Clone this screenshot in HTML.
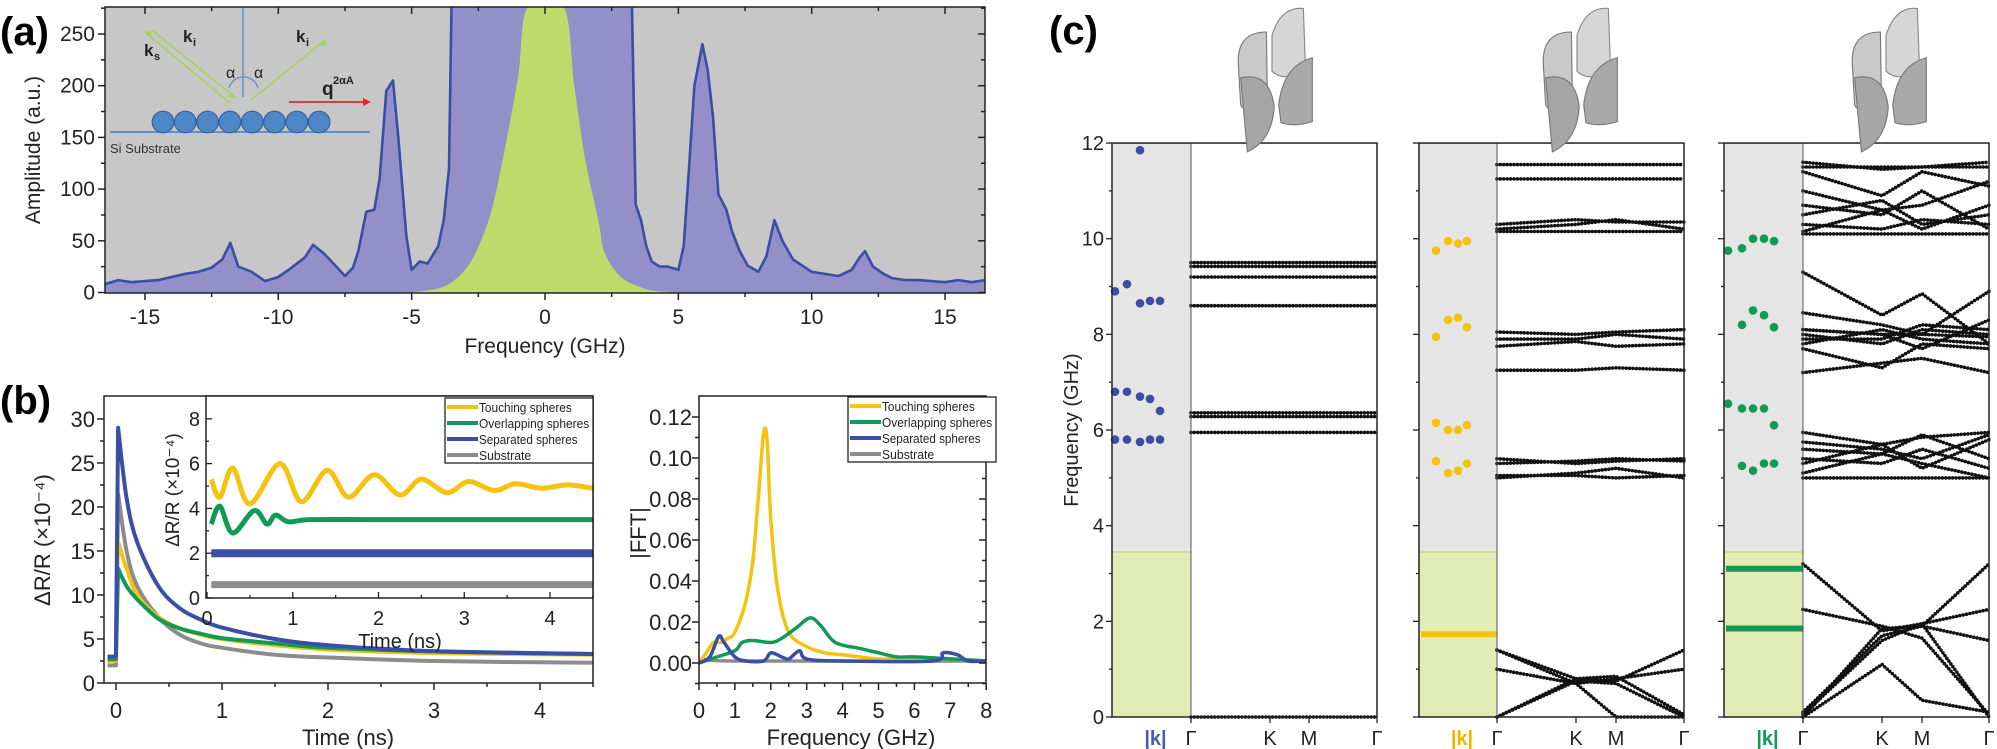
<!DOCTYPE html>
<html><head><meta charset="utf-8"><style>
html,body{margin:0;padding:0;background:#fff;}
svg{display:block;font-family:"Liberation Sans",sans-serif;}
</style></head><body>
<svg id="fig" width="1997" height="749" viewBox="0 0 1997 749" xmlns="http://www.w3.org/2000/svg">
<defs>
<clipPath id="clipA"><rect x="105" y="7" width="880" height="286"/></clipPath>
<clipPath id="clipB"><rect x="104" y="396" width="489" height="287"/></clipPath>
<clipPath id="clipI"><rect x="206" y="396" width="387" height="202"/></clipPath>
<clipPath id="clipF"><rect x="699" y="396" width="287" height="287"/></clipPath>
</defs>
<text x="0" y="45" font-size="40" font-weight="bold">(a)</text>
<text x="0" y="414" font-size="40" font-weight="bold">(b)</text>
<text x="1049" y="44" font-size="40" font-weight="bold">(c)</text>
</svg>
<script>
// ---------- Panel (a) data ----------
const specFreq = [-16.5,-16,-15.5,-15,-14.5,-14,-13.5,-13,-12.5,-12.1,-11.8,-11.5,-11,-10.5,-10,-9.5,-9,-8.7,-8.3,-8,-7.5,-7.2,-7,-6.7,-6.4,-6.2,-5.95,-5.7,-5.5,-5.2,-5,-4.7,-4.4,-4,-3.8,-3.6,-3.5,3.25,3.4,3.6,3.8,4,4.3,4.6,5,5.2,5.4,5.6,5.9,6.1,6.3,6.5,6.8,7,7.3,7.6,8,8.3,8.6,8.9,9.3,9.7,10,10.5,11,11.5,11.8,12,12.3,12.7,13,13.5,14,15,15.5,16,16.5];
const specAmp  = [8,12,10,11,12,15,18,20,24,32,48,25,20,11,15,24,34,46,38,30,16,24,40,78,80,110,195,205,150,55,22,30,28,45,70,120,290,290,85,70,45,30,25,25,22,45,120,200,240,215,170,95,80,60,40,26,20,35,70,50,32,25,20,18,16,22,34,40,25,18,14,12,12,10,12,10,12];
const gaussFreq = [-5,-4,-3.5,-3,-2.55,-2,-1.5,-1,-0.65,0.7,1.1,1.5,2,2.2,2.6,3,3.5,4,5];
const gaussAmp  = [0,4,10,22,41,80,140,210,276,276,200,130,70,41,22,12,6,2,0];
const aXTicks = [-15,-10,-5,0,5,10,15];
const aYTicks = [0,50,100,150,200,250];

// ---------- Panel (b) decay data ----------
const decayT = [-0.08,-0.001,0.02,0.1,0.2,0.4,0.6,0.8,1,1.5,2,3,4.5];
const decayBlue   = [3,3,29,21,16,11,8.5,7.2,6.3,5,4.3,3.6,3.3];
const decayYellow = [2.5,2.5,16,13,10,7.5,6.2,5.5,5,4.3,3.8,3.4,3.2];
const decayGreen  = [2.7,2.7,13,11,9.5,7.3,6.2,5.6,5.1,4.5,4,3.6,3.3];
const decayGray   = [2,2,21.5,15,11,7.5,5.5,4.5,4,3.2,2.9,2.5,2.3];
const bXTicks = [0,1,2,3,4];
const bYTicks = [0,5,10,15,20,25,30];
// inset
const insTY = [0.05,0.15,0.3,0.5,0.85,1.1,1.4,1.65,1.95,2.25,2.5,2.8,3.05,3.35,3.6,3.9,4.2,4.5];
const insYellow = [5.3,4.5,5.8,4.2,6.0,4.3,5.7,4.5,5.5,4.6,5.3,4.7,5.2,4.8,5.1,4.9,5.05,4.9];
const insTG = [0.05,0.15,0.3,0.55,0.7,0.8,0.95,1.2,2,3,4.5];
const insGreen = [3.3,4.1,2.9,3.9,3.3,3.7,3.4,3.5,3.5,3.5,3.5];
const insTFlat = [0.05,4.5];
const insBlue = [2.0,2.0];
const insGray = [0.6,0.6];
const insXTicks = [0,1,2,3,4];
const insYTicks = [0,2,4,6,8];
// FFT
const fftF = [0,0.2,0.4,0.6,0.8,1.0,1.3,1.5,1.65,1.8,1.9,2.0,2.2,2.5,3,3.5,4,5,6,7,8];
const fftYellow = [0,0.005,0.01,0.01,0.012,0.015,0.03,0.05,0.08,0.112,0.108,0.07,0.035,0.015,0.008,0.005,0.004,0.002,0.002,0.002,0.001];
const fftFG = [0,0.5,1,1.2,1.5,2,2.3,2.7,3.1,3.4,3.8,4.5,5,5.5,6,7,8];
const fftGreen = [0,0.003,0.006,0.01,0.011,0.01,0.012,0.017,0.022,0.018,0.01,0.007,0.005,0.003,0.003,0.002,0.001];
const fftFB = [0,0.3,0.55,0.7,1,1.3,1.8,2,2.3,2.5,2.8,3,4,6.5,6.8,7.2,7.5,8];
const fftBlue = [0,0.003,0.013,0.01,0.003,0.001,0.001,0.005,0.003,0.002,0.006,0.002,0.001,0.001,0.005,0.004,0.001,0.001];
const fftFGr = [0,0.3,1,8];
const fftGray = [0,0.002,0.001,0.001];
const fXTicks = [0,1,2,3,4,5,6,7,8];
const fYTicks = [0,0.02,0.04,0.06,0.08,0.1,0.12];
const fYLabels = ["0.00","0.02","0.04","0.06","0.08","0.10","0.12"];
const legendNames = ["Touching spheres","Overlapping spheres","Separated spheres","Substrate"];

// ---------- Panel (c) data ----------
const cYTicks = [0,2,4,6,8,10,12];
const cXLabels = ["Γ","K","M","Γ"];
const dots1 = [[5.8,6.8,8.9],[5.8,6.8,9.05],[5.75,6.7,8.65,11.85],[5.8,6.65,8.7],[5.8,6.4,8.7]];
const dots2 = [[5.35,6.15,7.95,9.75],[5.1,6.0,8.3,9.95],[5.15,6.0,8.35,9.9],[5.3,6.1,8.15,9.95]];
const dots3 = [[6.55,9.75],[5.25,6.45,8.2,9.8],[5.15,6.45,8.5,10.0],[5.3,6.45,8.4,10.0],[5.3,6.1,8.15,9.95]];
const flat2 = [1.73];
const flat3 = [3.1,1.85];
const bands1 = [[0,0,0,0],[5.95,5.95,5.95,5.95],[6.28,6.28,6.28,6.28],[6.36,6.36,6.36,6.36],[8.6,8.6,8.6,8.6],[9.2,9.2,9.2,9.2],[9.42,9.42,9.42,9.42],[9.5,9.5,9.5,9.5]];
const bands2 = [[1.4,0.8,0.75,1.4],[1.0,0.7,0.8,1.0],[0,0.75,0.7,0],[0,0.8,0.85,0.05],[1.4,0.7,0,0],
 [5.0,5.1,5.2,5.0],[5.05,5.05,5.0,5.05],[5.3,5.35,5.4,5.35],[5.4,5.3,5.35,5.4],[7.25,7.25,7.3,7.25],[7.75,7.85,7.75,7.8],[7.9,7.9,8.0,7.9],[8.05,8.0,8.05,8.1],
 [10.2,10.3,10.4,10.2],[10.3,10.4,10.35,10.35],[10.15,10.15,10.15,10.15],[11.25,11.25,11.25,11.25],[11.55,11.55,11.55,11.55]];
const bands3 = [[3.2,1.8,1.95,0],[2.25,1.9,1.65,0.05],[0,1.85,1.9,3.2],[0.05,1.6,1.95,2.25],[0,1.1,0.35,0.1],[0.1,1.7,1.9,1.6],
 [5.0,5.0,5.0,5.0],[5.1,5.5,5.3,5.0],[5.3,5.7,5.2,5.8],[5.6,5.5,5.9,5.4],[5.75,5.6,5.4,5.9],[5.95,5.7,5.85,5.95],[5.4,5.3,5.6,5.2],
 [9.3,8.4,8.85,7.8],[8.45,8.2,8.0,8.9],[7.2,7.4,7.5,7.2],[7.7,7.3,7.8,7.7],[7.9,7.9,8.2,8.1],[8.1,8.0,7.7,8.3],[7.8,8.1,7.9,7.8],[8.0,7.8,8.1,8.0],[8.1,8.0,8.0,7.95],
 [10.1,10.1,10.1,10.1],[10.3,10.2,10.4,10.3],[10.5,10.8,10.3,10.5],[10.7,10.5,11.0,10.2],[11.0,10.6,10.7,11.2],[11.5,11.5,11.5,11.5],[11.6,11.45,11.5,11.6],[11.4,10.9,11.4,11.1],[10.15,10.6,10.2,10.7]];

const NS = "http://www.w3.org/2000/svg";
const svg = document.getElementById('fig');
function mk(tag, attrs, name, parent) {
  const e = document.createElementNS(NS, tag);
  for (const k in attrs) e.setAttribute(k, attrs[k]);
  
  
  (parent || svg).appendChild(e);
  return e;
}
function txt(x, y, s, attrs, name, parent) {
  const e = mk('text', Object.assign({x:x, y:y}, attrs), name, parent);
  e.textContent = s;
  return e;
}
function pathFrom(xs, ys, fx, fy) {
  return xs.map((v,i)=>(i?'L':'M')+fx(v).toFixed(1)+' '+fy(ys[i]).toFixed(1)).join(' ');
}
function smoothFrom(xs, ys, fx, fy, nLin) {
  nLin = nLin || 0;
  const P = xs.map((v,i)=>[fx(v), fy(ys[i])]);
  let d = 'M'+P[0][0].toFixed(1)+' '+P[0][1].toFixed(1);
  for (let i=0;i<P.length-1;i++){
    const p1=P[i], p2=P[i+1];
    if (i < nLin) { d += ` L${p2[0].toFixed(1)} ${p2[1].toFixed(1)}`; continue; }
    const p0=P[Math.max(nLin,i-1)], p3=P[Math.min(P.length-1,i+2)];
    const c1=[p1[0]+(p2[0]-p0[0])/6, p1[1]+(p2[1]-p0[1])/6];
    const c2=[p2[0]-(p3[0]-p1[0])/6, p2[1]-(p3[1]-p1[1])/6];
    d+=` C${c1[0].toFixed(1)} ${c1[1].toFixed(1)} ${c2[0].toFixed(1)} ${c2[1].toFixed(1)} ${p2[0].toFixed(1)} ${p2[1].toFixed(1)}`;
  }
  return d;
}

// ================= Panel (a) =================
const ax = f => 545 + f*26.67;
const ay = v => 292.5 - v*1.034;
mk('rect',{x:105,y:7,width:880,height:286,fill:'#c8c7c8'},'panel-a-background');
const ga = mk('g',{'clip-path':'url(#clipA)'},'panel-a-plot-area');
const sp = pathFrom(specFreq, specAmp, ax, ay);
mk('path',{d:sp+` L${ax(16.5)} ${ay(0)} L${ax(-16.5)} ${ay(0)} Z`, fill:'#938fc8'},'spectrum-fill',ga);
const gp = smoothFrom(gaussFreq, gaussAmp, ax, ay);
mk('path',{d:gp+' Z', fill:'#c0d96b'},'central-gaussian',ga);
mk('path',{d:sp, fill:'none', stroke:'#3a4ea6','stroke-width':2.6,'stroke-linejoin':'round'},'spectrum-line',ga);
mk('rect',{x:105,y:7,width:880,height:286,fill:'none',stroke:'#222','stroke-width':1.5},'panel-a-frame');
for (let f=-15; f<=15; f+=2.5) {
  const major = Number.isInteger(f/5);
  mk('line',{x1:ax(f),x2:ax(f),y1:293,y2:293+(major?7:4),stroke:'#222','stroke-width':1.5},'a-x-tick');
  mk('line',{x1:ax(f),x2:ax(f),y1:7,y2:7+(major?7:4),stroke:'#222','stroke-width':1.5},'a-x-tick-top');
}
aXTicks.forEach(f=>txt(ax(f),324,String(f),{'font-size':21,'text-anchor':'middle',fill:'#222'},'a-x-tick-label'));
for (let v=0; v<=275; v+=25) {
  const major = v%50===0;
  mk('line',{x1:105-(major?7:4),x2:105,y1:ay(v),y2:ay(v),stroke:'#222','stroke-width':1.5},'a-y-tick');
  mk('line',{x1:985-(major?7:4),x2:985,y1:ay(v),y2:ay(v),stroke:'#222','stroke-width':1.5},'a-y-tick-right');
}
aYTicks.forEach(v=>txt(95,ay(v)+7,String(v),{'font-size':21,'text-anchor':'end',fill:'#222'},'a-y-tick-label'));
txt(545,353,'Frequency (GHz)',{'font-size':21,'text-anchor':'middle',fill:'#222'},'a-x-axis-title');
txt(0,0,'Amplitude (a.u.)',{'font-size':21,'text-anchor':'middle',fill:'#222',transform:'translate(40,150) rotate(-90)'},'a-y-axis-title');
// inset schematic
const gi = mk('g',{},'scattering-schematic');
mk('line',{x1:243,y1:8,x2:243,y2:97,stroke:'#5b8fd0','stroke-width':1.5},'surface-normal',gi);
mk('path',{d:'M229 88 A15 15 0 0 1 258 88',fill:'none',stroke:'#5b8fd0','stroke-width':1.3},'angle-arc',gi);
mk('line',{x1:152,y1:30,x2:236,y2:98,stroke:'#a6d25a','stroke-width':1.6},'incident-beam',gi);
mk('path',{d:'M236 98 l-8 -1 l3 -5 z',fill:'#a6d25a'},'incident-arrowhead',gi);
mk('line',{x1:230,y1:103,x2:146,y2:33,stroke:'#a6d25a','stroke-width':1.6},'scattered-beam',gi);
mk('path',{d:'M144 31 l8 1 l-3 5 z',fill:'#a6d25a'},'scattered-arrowhead',gi);
mk('line',{x1:251,y1:100,x2:324,y2:41,stroke:'#a6d25a','stroke-width':1.6},'reflected-beam',gi);
mk('path',{d:'M327 39 l-3 8 l-4 -4 z',fill:'#a6d25a'},'reflected-arrowhead',gi);
mk('line',{x1:289,y1:102,x2:365,y2:102,stroke:'#e8262a','stroke-width':1.8},'q-vector',gi);
mk('path',{d:'M371 102 l-8 -4 l0 8 z',fill:'#e8262a'},'q-arrowhead',gi);
mk('line',{x1:110,y1:132,x2:370,y2:132,stroke:'#5b8fd0','stroke-width':2},'substrate-line',gi);
for (let i=0;i<8;i++) mk('circle',{cx:163+i*22.3,cy:122,r:10.8,fill:'#4f86c6',stroke:'#3560a0','stroke-width':1.2},'sphere',gi);
txt(110,153,'Si Substrate',{'font-size':13,fill:'#333'},'substrate-label',gi);
txt(183,42,'k',{'font-size':17,'font-weight':'bold',fill:'#222'},'ki-label',gi);
txt(193,46,'i',{'font-size':11,'font-weight':'bold',fill:'#222'},'ki-subscript',gi);
txt(296,42,'k',{'font-size':17,'font-weight':'bold',fill:'#222'},'ki-label-out',gi);
txt(306,46,'i',{'font-size':11,'font-weight':'bold',fill:'#222'},'ki-subscript-out',gi);
txt(144,56,'k',{'font-size':17,'font-weight':'bold',fill:'#222'},'ks-label',gi);
txt(154,60,'s',{'font-size':11,'font-weight':'bold',fill:'#222'},'ks-subscript',gi);
txt(226,78,'α',{'font-size':16,fill:'#222'},'alpha-left',gi);
txt(254,78,'α',{'font-size':16,fill:'#222'},'alpha-right',gi);
txt(322,95,'q',{'font-size':19,'font-weight':'bold',fill:'#222'},'q-label',gi);
txt(333,84,'2αA',{'font-size':11,'font-weight':'bold',fill:'#222'},'q-superscript',gi);

// ================= Panel (b) left =================
const bx = t => 116 + t*106;
const by = v => 683 - v*8.8;
const COL = {y:'#f4c20f', g:'#119a55', b:'#3a4ea6', k:'#8c8c8c'};
const gb = mk('g',{'clip-path':'url(#clipB)'},'decay-plot-area');
[[decayGray,COL.k,'decay-substrate'],[decayYellow,COL.y,'decay-touching'],[decayGreen,COL.g,'decay-overlapping'],[decayBlue,COL.b,'decay-separated']].forEach(s=>{
  mk('path',{d:smoothFrom(decayT,s[0],bx,by,2),fill:'none',stroke:s[1],'stroke-width':4,'stroke-linejoin':'round'},s[2],gb);
});
mk('rect',{x:104,y:396,width:489,height:287,fill:'none',stroke:'#222','stroke-width':1.5},'decay-frame');
for (let t=0;t<=4.5;t+=0.5){const M=Number.isInteger(t);mk('line',{x1:bx(t),x2:bx(t),y1:683,y2:683+(M?7:4),stroke:'#222','stroke-width':1.5},'b-x-tick');}
bXTicks.forEach(t=>txt(bx(t),718,String(t),{'font-size':22,'text-anchor':'middle',fill:'#222'},'b-x-tick-label'));
for (let v=0;v<=30;v+=2.5){const M=v%5===0;mk('line',{x1:104-(M?7:4),x2:104,y1:by(v),y2:by(v),stroke:'#222','stroke-width':1.5},'b-y-tick');}
bYTicks.forEach(v=>txt(95,by(v)+8,String(v),{'font-size':22,'text-anchor':'end',fill:'#222'},'b-y-tick-label'));
txt(348,745,'Time (ns)',{'font-size':22,'text-anchor':'middle',fill:'#222'},'b-x-axis-title');
txt(0,0,'ΔR/R (×10⁻⁴)',{'font-size':22,'text-anchor':'middle',fill:'#222',transform:'translate(50,540) rotate(-90)'},'b-y-axis-title');
// inset
const ix = t => 207 + t*85.75;
const iy = v => 598 - v*22.4;
mk('rect',{x:206,y:396,width:387,height:202,fill:'#fff'},'inset-background');
const gI = mk('g',{'clip-path':'url(#clipI)'},'inset-plot-area');
mk('path',{d:pathFrom(insTFlat,insGray,ix,iy),fill:'none',stroke:COL.k,'stroke-width':7},'inset-substrate',gI);
mk('path',{d:pathFrom(insTFlat,insBlue,ix,iy),fill:'none',stroke:COL.b,'stroke-width':8},'inset-separated',gI);
mk('path',{d:smoothFrom(insTG,insGreen,ix,iy),fill:'none',stroke:COL.g,'stroke-width':5,'stroke-linejoin':'round'},'inset-overlapping',gI);
mk('path',{d:smoothFrom(insTY,insYellow,ix,iy),fill:'none',stroke:COL.y,'stroke-width':5,'stroke-linejoin':'round'},'inset-touching',gI);
mk('rect',{x:206,y:396,width:387,height:202,fill:'none',stroke:'#222','stroke-width':1.5},'inset-frame');
for (let t=0;t<=4.5;t+=0.5){const M=Number.isInteger(t);mk('line',{x1:ix(t),x2:ix(t),y1:598,y2:598-(M?6:3),stroke:'#222','stroke-width':1.3},'inset-x-tick');}
insXTicks.forEach(t=>txt(ix(t),625,String(t),{'font-size':20,'text-anchor':'middle',fill:'#222'},'inset-x-tick-label'));
for (let v=0;v<=8;v+=1){const M=v%2===0;mk('line',{x1:206,x2:206+(M?6:3),y1:iy(v),y2:iy(v),stroke:'#222','stroke-width':1.3},'inset-y-tick');}
insYTicks.forEach(v=>txt(200,iy(v)+7,String(v),{'font-size':20,'text-anchor':'end',fill:'#222'},'inset-y-tick-label'));
txt(400,648,'Time (ns)',{'font-size':20,'text-anchor':'middle',fill:'#222'},'inset-x-axis-title');
txt(0,0,'ΔR/R (×10⁻⁴)',{'font-size':19,'text-anchor':'middle',fill:'#222',transform:'translate(179,490) rotate(-90)'},'inset-y-axis-title');
function legend(x0,y0,prefix){
  mk('rect',{x:x0,y:y0,width:148,height:65,fill:'#fff',stroke:'#222','stroke-width':1.3},prefix+'-legend-box');
  [COL.y,COL.g,COL.b,COL.k].forEach((c,i)=>{
    const yy=y0+9+i*16;
    mk('line',{x1:x0+2,x2:x0+33,y1:yy,y2:yy,stroke:c,'stroke-width':4},prefix+'-legend-swatch');
    txt(x0+34,yy+5,legendNames[i],{'font-size':13,fill:'#222','textLength':legendNames[i].length*5.8,'lengthAdjust':'spacingAndGlyphs'},prefix+'-legend-entry');
  });
}
legend(445,398,'decay');

// ================= Panel (b) right: FFT =================
const fx = f => 699 + f*35.9;
const fy = v => 663 - v*2050;
const gF = mk('g',{'clip-path':'url(#clipF)'},'fft-plot-area');
[[fftFGr,fftGray,COL.k,'fft-substrate'],[fftF,fftYellow,COL.y,'fft-touching'],[fftFG,fftGreen,COL.g,'fft-overlapping'],[fftFB,fftBlue,COL.b,'fft-separated']].forEach(s=>{
  mk('path',{d:smoothFrom(s[0],s[1],fx,fy),fill:'none',stroke:s[2],'stroke-width':3.5,'stroke-linejoin':'round'},s[3],gF);
});
mk('rect',{x:699,y:396,width:287,height:287,fill:'none',stroke:'#222','stroke-width':1.5},'fft-frame');
for (let f=0;f<=8;f+=0.5){const M=Number.isInteger(f);mk('line',{x1:fx(f),x2:fx(f),y1:683,y2:683+(M?7:4),stroke:'#222','stroke-width':1.5},'fft-x-tick');}
fXTicks.forEach(f=>txt(fx(f),718,String(f),{'font-size':22,'text-anchor':'middle',fill:'#222'},'fft-x-tick-label'));
for (let v=-0.01;v<=0.125;v+=0.01){const M=Math.round(v*100)%2===0;mk('line',{x1:699-(M?7:4),x2:699,y1:fy(v),y2:fy(v),stroke:'#222','stroke-width':1.5},'fft-y-tick');mk('line',{x1:986-(M?7:4),x2:986,y1:fy(v),y2:fy(v),stroke:'#222','stroke-width':1.5},'fft-y-tick-right');}
fYTicks.forEach((v,i)=>txt(692,fy(v)+8,fYLabels[i],{'font-size':22,'text-anchor':'end',fill:'#222'},'fft-y-tick-label'));
txt(851,745,'Frequency (GHz)',{'font-size':22,'text-anchor':'middle',fill:'#222'},'fft-x-axis-title');
txt(0,0,'|FFT|',{'font-size':22,'text-anchor':'middle',fill:'#222',transform:'translate(646,533) rotate(-90)'},'fft-y-axis-title');
legend(848,397,'fft');

// ================= Panel (c) =================
const cy = f => 717 - f*47.83;
const plots = [
 {L:1112,G:1191,K:1270,M:1309,R:1377,dots:dots1,dx:[1115,1127,1140,1150,1160],dc:'#3a4ea6',flat:[],fc:'#3a4ea6',bands:bands1,kc:'#4a5bb5',sx:1272},
 {L:1419,G:1497,K:1576,M:1616,R:1684,dots:dots2,dx:[1436,1448,1458,1467],dc:'#f4c20f',flat:flat2,fc:'#f4c20f',bands:bands2,kc:'#f0b400',sx:1577},
 {L:1724,G:1803,K:1882,M:1922,R:1989,dots:dots3,dx:[1728,1742,1753,1764,1774],dc:'#119a55',flat:flat3,fc:'#119a55',bands:bands3,kc:'#119a55',sx:1886}
];
plots.forEach((p,pi)=>{
  const g = mk('g',{},'band-structure-'+(pi+1));
  mk('rect',{x:p.L,y:cy(12),width:p.G-p.L,height:cy(3.45)-cy(12),fill:'#e5e5e5'},'k-strip-gray',g);
  mk('rect',{x:p.L,y:cy(3.45),width:p.G-p.L,height:cy(0)-cy(3.45),fill:'#e2ecb6'},'k-strip-green',g);
  mk('line',{x1:p.L,x2:p.G,y1:cy(3.45),y2:cy(3.45),stroke:'#b8d36a','stroke-width':1},'cutoff-line',g);
  const xs=[p.G,p.K,p.M,p.R];
  p.bands.forEach(b=>{
    mk('path',{d:xs.map((x,i)=>(i?'L':'M')+x+' '+cy(b[i]).toFixed(1)).join(' '),fill:'none',stroke:'#111','stroke-width':3.6,'stroke-linecap':'round','stroke-dasharray':'0 3.4'},'phonon-band',g);
  });
  p.flat.forEach(f=>mk('line',{x1:p.L+2,x2:p.G,y1:cy(f),y2:cy(f),stroke:p.fc,'stroke-width':6},'flat-mode',g));
  p.dots.forEach((col,ci)=>col.forEach(f=>mk('circle',{cx:p.dx[ci],cy:cy(f),r:4.3,fill:p.dc},'measured-mode',g)));
  mk('line',{x1:p.G,x2:p.G,y1:cy(12),y2:cy(0),stroke:'#555','stroke-width':1},'gamma-divider',g);
  mk('rect',{x:p.L,y:cy(12),width:p.R-p.L,height:cy(0)-cy(12),fill:'none',stroke:'#222','stroke-width':1.5},'band-frame',g);
  for (let f=0;f<=12;f+=1){const M=f%2===0;mk('line',{x1:p.L-(M?6:3),x2:p.L,y1:cy(f),y2:cy(f),stroke:'#222','stroke-width':1.3},'c-y-tick',g);}
  [p.G,p.K,p.M,p.R].forEach((x,i)=>{
    mk('line',{x1:x,x2:x,y1:cy(0),y2:cy(0)+6,stroke:'#222','stroke-width':1.3},'c-x-tick',g);
    txt(x,745,cXLabels[i],{'font-size':20,'text-anchor':'middle',fill:'#222'},'c-x-tick-label',g);
  });
  txt((p.L+p.G)/2+4,745,'|k|',{'font-size':20,'font-weight':'bold','text-anchor':'middle',fill:p.kc},'k-axis-label',g);
  const s = mk('g',{transform:`translate(${p.sx},4) scale(1.12)`},'unit-cell-sketch');
  mk('path',{d:'M-30 55 Q-32 25 -5 25 L-4 95 Q-25 98 -28 90 Z',fill:'#c9c9c9',stroke:'#777','stroke-width':1},'shell-back-left',s);
  mk('path',{d:'M0 28 Q8 2 28 4 L30 60 Q10 70 0 60 Z',fill:'#d6d6d6',stroke:'#888','stroke-width':1},'shell-back-right',s);
  mk('path',{d:'M-28 66 Q-2 60 2 92 Q0 122 -22 132 Z',fill:'#a6a6a6',stroke:'#777','stroke-width':1},'shell-front-left',s);
  mk('path',{d:'M6 90 Q10 55 36 48 L36 105 Q20 110 8 106 Z',fill:'#a9a9a9',stroke:'#777','stroke-width':1},'shell-front-right',s);
});
txt(0,0,'Frequency (GHz)',{'font-size':20,'text-anchor':'middle',fill:'#222',transform:'translate(1078,430) rotate(-90)'},'c-y-axis-title');
cYTicks.forEach(f=>txt(1104,cy(f)+7,String(f),{'font-size':20,'text-anchor':'end',fill:'#222'},'c-y-tick-label'));
</script>
</body></html>
